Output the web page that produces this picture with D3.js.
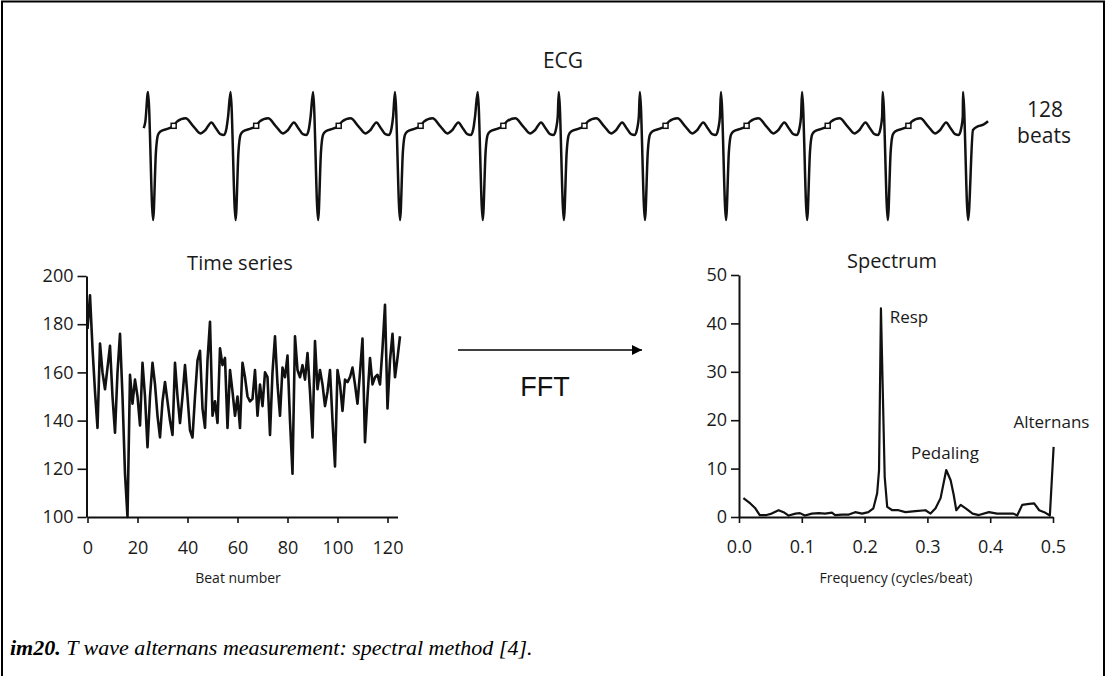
<!DOCTYPE html>
<html><head><meta charset="utf-8">
<script src="https://cdn.jsdelivr.net/npm/d3@7"></script>
<style>
html,body{margin:0;padding:0;background:#fff;}
svg{display:block;}
.sans{font-family:"Open Sans","DejaVu Sans",sans-serif;fill:#1a1a1a;font-weight:500;}
</style></head><body>
<svg id="chart" width="1107" height="676"></svg>
<script>
// ---------- DATA ----------
// Time series (one value per beat)
const beats = d3.range(0, 126);
const tsValues = [178,192,170,152,137,172,160,153,162,171,150,135,160,176,150,118,100,159,147,157,
  150,138,164,150,129,150,164,155,142,133,148,156,148,140,134,164,150,139,150,163,
  150,136,133,150,165,169,145,137,165,181,142,148,139,170,163,166,137,161,152,142,
  150,137,164,158,150,148,149,161,142,155,146,160,158,134,160,175,155,142,162,158,
  167,140,118,175,161,158,163,157,168,152,133,173,153,161,155,146,152,161,140,121,
  161,155,144,157,156,158,162,155,147,160,174,131,150,166,155,158,159,155,170,188,
  145,165,176,158,166,175];
const tsXTicks = [0,20,40,60,80,100,120];
const tsYTicks = [100,120,140,160,180,200];

// Spectrum (frequency, power)
const specFreq = [0.007,0.018,0.026,0.033,0.044,0.052,0.063,0.071,0.079,0.090,0.097,0.105,0.116,0.127,0.137,0.148,0.153,0.164,0.175,0.185,
  0.196,0.206,0.214,0.220,0.223,0.226,0.232,0.236,0.244,0.254,0.265,0.281,0.297,0.305,0.313,0.321,0.330,0.337,0.342,0.346,
  0.353,0.361,0.372,0.382,0.398,0.411,0.425,0.437,0.443,0.451,0.462,0.470,0.478,0.486,0.495,0.501];
const specPower = [3.9,2.8,1.8,0.4,0.4,0.7,1.4,1.0,0.3,0.7,0.8,0.3,0.7,0.8,0.7,0.9,0.4,0.5,0.5,1.0,
  0.7,1.0,1.8,4.9,9.7,43.1,8.3,2.1,1.4,1.4,1.0,1.2,1.4,0.7,1.8,3.9,9.7,7.6,4.5,1.4,
  2.5,1.8,0.7,0.4,1.0,0.7,0.7,0.7,0.3,2.5,2.7,2.8,1.4,1.0,0.3,14.5];
const specXTicks = [0,0.1,0.2,0.3,0.4,0.5];
const specYTicks = [0,10,20,30,40,50];
const specLabels = ["Resp","Pedaling","Alternans"];

// ECG: one beat template (ms from R peak, amplitude) and R-peak times (ms)
const ecgT = [0,25,39,49,61,102,126,142,184,224,257,282,311,334,355,373,385,393];
const ecgA = [1.0,-2.37,-0.57,-0.13,-0.04,0.04,0.11,0.22,0.31,0.09,-0.09,0,0.2,0.04,-0.11,-0.13,0.04,0.35];
const rPeaks = [0,405,810,1212,1618,2016,2414,2812,3210,3606,4000];
const ecgStart = [[-21,0.05],[-13,0.22]];
const ecgTail = [[25,-2.37],[49,0.0],[75,0.1],[100,0.14],[123,0.23]];
const squareT = 126;

// ---------- DRAW ----------
const svg = d3.select("#chart");
const ink = "#111";

// frame
svg.append("rect").attr("x",2).attr("y",1.5).attr("width",1102).attr("height",700)
  .attr("fill","none").attr("stroke","#000").attr("stroke-width",2);

// ECG
const ex = d3.scaleLinear().domain([0,4000]).range([148,963]);
const ey = d3.scaleLinear().domain([0,1]).range([130,92]);
let ecgPts = ecgStart.slice();
rPeaks.forEach((r,i)=>{
  if(i < rPeaks.length-1){
    ecgT.forEach((t,j)=>ecgPts.push([r+t, ecgA[j]]));
  } else {
    ecgPts.push([r,1.0]);
    ecgTail.forEach(p=>ecgPts.push([r+p[0],p[1]]));
  }
});
svg.append("path").attr("d", d3.line().curve(d3.curveMonotoneX).x(d=>ex(d[0])).y(d=>ey(d[1]))(ecgPts))
  .attr("fill","none").attr("stroke",ink).attr("stroke-width",2.5).attr("stroke-linejoin","round");
// T-wave markers
rPeaks.slice(0,-1).forEach(r=>{
  const a = 0.11;
  svg.append("rect").attr("x",ex(r+squareT)-2.5).attr("y",ey(a)-2.5).attr("width",5).attr("height",5)
    .attr("fill","#fff").attr("stroke",ink).attr("stroke-width",1.5);
});
svg.append("text").attr("class","sans").attr("x",563).attr("y",68).attr("text-anchor","middle")
  .attr("font-size",21).text("ECG");
svg.append("text").attr("class","sans").attr("x",1045).attr("y",117).attr("text-anchor","middle")
  .attr("font-size",21).text("128");
svg.append("text").attr("class","sans").attr("x",1044).attr("y",143).attr("text-anchor","middle")
  .attr("font-size",21).text("beats");

// Time series
const tx = d3.scaleLinear().domain([0,124]).range([87.5,397.5]);
const ty = d3.scaleLinear().domain([100,200]).range([517,276]);
const gx = svg.append("g").attr("transform","translate(0,517)")
  .call(d3.axisBottom(tx).tickValues(tsXTicks).tickSize(6).tickPadding(18).tickSizeOuter(0));
const gy = svg.append("g").attr("transform","translate(86.5,0)")
  .call(d3.axisLeft(ty).tickValues(tsYTicks).tickSize(9).tickPadding(4).tickSizeOuter(0));
[gx,gy].forEach(g=>{
  g.select(".domain").attr("stroke",ink).attr("stroke-width",2);
  g.selectAll(".tick line").attr("stroke",ink).attr("stroke-width",1.6);
  g.selectAll("text").attr("class","sans").attr("font-size",18).attr("fill","#1a1a1a");
});
svg.append("path").datum(beats).attr("d", d3.line().x(d=>tx(d)).y(d=>ty(tsValues[d])))
  .attr("fill","none").attr("stroke",ink).attr("stroke-width",2.6).attr("stroke-linejoin","round");
svg.append("text").attr("class","sans").attr("x",240).attr("y",270).attr("text-anchor","middle")
  .attr("font-size",20).text("Time series");
svg.append("text").attr("class","sans").attr("x",238).attr("y",583).attr("text-anchor","middle")
  .attr("font-size",14).text("Beat number");

// Arrow + FFT
svg.append("defs").append("marker").attr("id","ah").attr("viewBox","0 0 10 10")
  .attr("refX",10).attr("refY",5).attr("markerWidth",18).attr("markerHeight",10)
  .attr("markerUnits","userSpaceOnUse").attr("orient","auto")
  .append("path").attr("d","M0,0 L10,5 L0,10 Z").attr("fill","#000");
svg.append("line").attr("x1",458).attr("y1",350).attr("x2",642).attr("y2",350)
  .attr("stroke","#000").attr("stroke-width",1.5).attr("marker-end","url(#ah)");
svg.append("text").attr("x",545).attr("y",396).attr("text-anchor","middle")
  .attr("font-family","Liberation Sans, Arial, sans-serif").attr("font-size",27).attr("fill","#111").text("FFT");

// Spectrum
const sx = d3.scaleLinear().domain([0,0.5]).range([739,1053]);
const sy = d3.scaleLinear().domain([0,50]).range([517,275]);
const sgx = svg.append("g").attr("transform","translate(0,517)")
  .call(d3.axisBottom(sx).tickValues(specXTicks).tickFormat(d3.format(".1f")).tickSize(6).tickPadding(17).tickSizeOuter(0));
const sgy = svg.append("g").attr("transform","translate(739,0)")
  .call(d3.axisLeft(sy).tickValues(specYTicks).tickSize(8).tickPadding(4).tickSizeOuter(0));
[sgx,sgy].forEach(g=>{
  g.select(".domain").attr("stroke",ink).attr("stroke-width",2);
  g.selectAll(".tick line").attr("stroke",ink).attr("stroke-width",1.6);
  g.selectAll("text").attr("class","sans").attr("font-size",18).attr("fill","#1a1a1a");
});
svg.append("path").datum(d3.range(specFreq.length))
  .attr("d", d3.line().x(i=>sx(specFreq[i])).y(i=>sy(specPower[i])))
  .attr("fill","none").attr("stroke",ink).attr("stroke-width",2.2).attr("stroke-linejoin","round");
svg.append("text").attr("class","sans").attr("x",892).attr("y",268).attr("text-anchor","middle")
  .attr("font-size",20).text("Spectrum");
svg.append("text").attr("class","sans").attr("x",896).attr("y",583).attr("text-anchor","middle")
  .attr("font-size",14).text("Frequency (cycles/beat)");
const labPos = [[0.240,40],[0.274,12],[0.437,18.4]];
specLabels.forEach((t,i)=>{
  svg.append("text").attr("class","sans").attr("x",sx(labPos[i][0])).attr("y",sy(labPos[i][1]))
    .attr("font-size",17).text(t);
});

// Caption
const cap = svg.append("text").attr("x",10).attr("y",655)
  .attr("font-family","Liberation Serif, Times New Roman, serif").attr("font-size",22).attr("fill","#000");
cap.append("tspan").attr("font-weight","bold").attr("font-style","italic").text("im20.");
cap.append("tspan").attr("font-style","italic").text(" T wave alternans measurement: spectral method [4].");
</script>
</body></html>
